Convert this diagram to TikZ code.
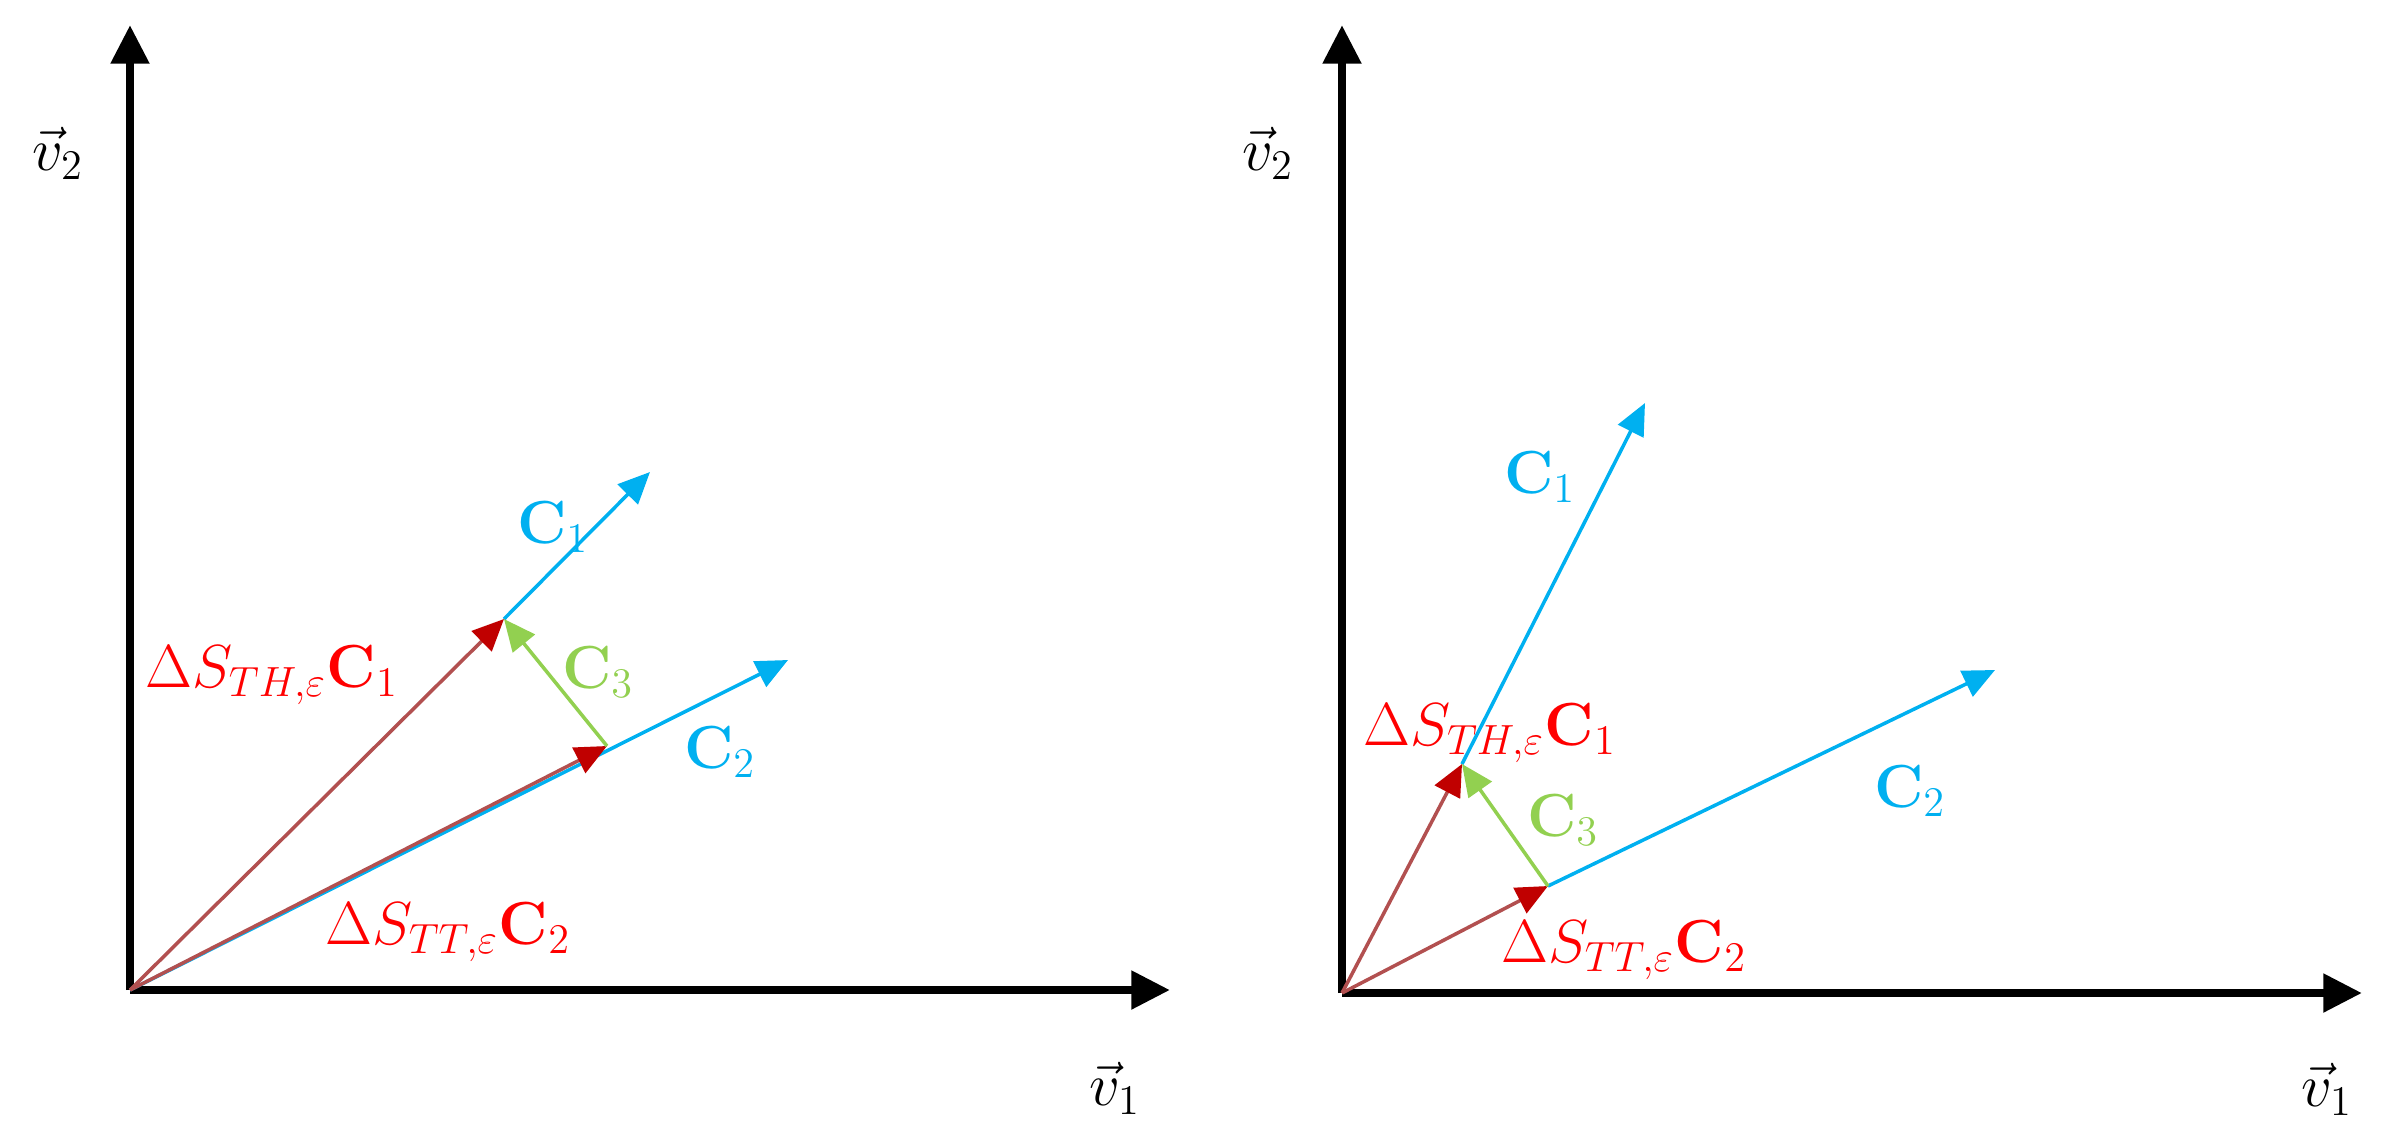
\documentclass[tikz,border=0pt]{standalone}
\usepackage{amsmath}
\usetikzlibrary{arrows.meta}
\definecolor{lblred}{RGB}{255,0,0}
\definecolor{tipred}{RGB}{192,0,0}
\definecolor{shaftred}{RGB}{178,80,80}
\definecolor{vecblue}{RGB}{0,176,240}
\definecolor{vecgreen}{RGB}{146,208,80}
\tikzset{
	axis/.style={line width=2.4pt,-{Triangle[length=11pt,width=10.5pt]}},
	redvec/.style={shaftred,line width=1pt,-{Triangle[length=9pt,width=8pt,color=tipred]}},
	bluevec/.style={vecblue,line width=1pt,-{Triangle[length=9pt,width=8pt]}},
	greenvec/.style={vecgreen,line width=1pt,-{Triangle[length=9pt,width=8pt]}},
	lbl/.style={inner sep=0pt,font=\fontsize{16.5}{19}\selectfont}
}

\begin{document}
\begin{tikzpicture}[x=0.01cm,y=-0.01cm]
			\useasboundingbox (0,0) rectangle (2396,1141);
			% left
			\coordinate (oa) at (130,990);
			\coordinate (ya) at (130,25);
			\coordinate (xa) at (1170,990);
			\coordinate (ra1) at (504,619);
			\coordinate (ra2) at (607,746);
			\coordinate (ba1) at (650,472);
			\coordinate (ba2) at (788,660);
			\draw [axis] (oa) -- (ya);
			\draw [axis] (oa) -- (xa);
			\draw [bluevec] (oa) -- (ba2);
			\draw [bluevec] (ra1) -- (ba1);
			\draw [redvec] (oa) -- (ra1);
			\draw [redvec] (oa) -- (ra2);
			\draw [greenvec] (ra2) -- (ra1);
			\node [lbl] (va2) at (58,153) {$\vec{v}_2$};
			\node [lbl] (va1) at (1115,1088) {$\vec{v}_1$};
			\node [lbl,lblred] (tha) at (272,675) {$\Delta S_{TH,\varepsilon}\mathbf{C}_1$};
			\node [lbl,lblred] (tta) at (448,932) {$\Delta S_{TT,\varepsilon}\mathbf{C}_2$};
			\node [lbl,vecblue] (ca1) at (553,527) {$\mathbf{C}_1$};
			\node [lbl,vecgreen] (ca3) at (598,672) {$\mathbf{C}_3$};
			\node [lbl,vecblue] (ca2) at (720,752) {$\mathbf{C}_2$};
			% right
			\coordinate (ob) at (1342,993);
			\coordinate (yb) at (1342,25);
			\coordinate (xb) at (2362,993);
			\coordinate (rb1) at (1462,764);
			\coordinate (rb2) at (1548,886);
			\coordinate (bb1) at (1645,403);
			\coordinate (bb2) at (1995,670);
			\draw [axis] (ob) -- (yb);
			\draw [axis] (ob) -- (xb);
			\draw [bluevec] (rb1) -- (bb1);
			\draw [bluevec] (rb2) -- (bb2);
			\draw [redvec] (ob) -- (rb1);
			\draw [redvec] (ob) -- (rb2);
			\draw [greenvec] (rb2) -- (rb1);
			\node [lbl] (vb2) at (1268,153) {$\vec{v}_2$};
			\node [lbl] (vb1) at (2327,1089) {$\vec{v}_1$};
			\node [lbl,lblred] (thb) at (1490,733) {$\Delta S_{TH,\varepsilon}\mathbf{C}_1$};
			\node [lbl,lblred] (ttb) at (1624,950) {$\Delta S_{TT,\varepsilon}\mathbf{C}_2$};
			\node [lbl,vecblue] (cb1) at (1540,477) {$\mathbf{C}_1$};
			\node [lbl,vecgreen] (cb3) at (1563,820) {$\mathbf{C}_3$};
			\node [lbl,vecblue] (cb2) at (1910,791) {$\mathbf{C}_2$};
\end{tikzpicture}
\end{document}
